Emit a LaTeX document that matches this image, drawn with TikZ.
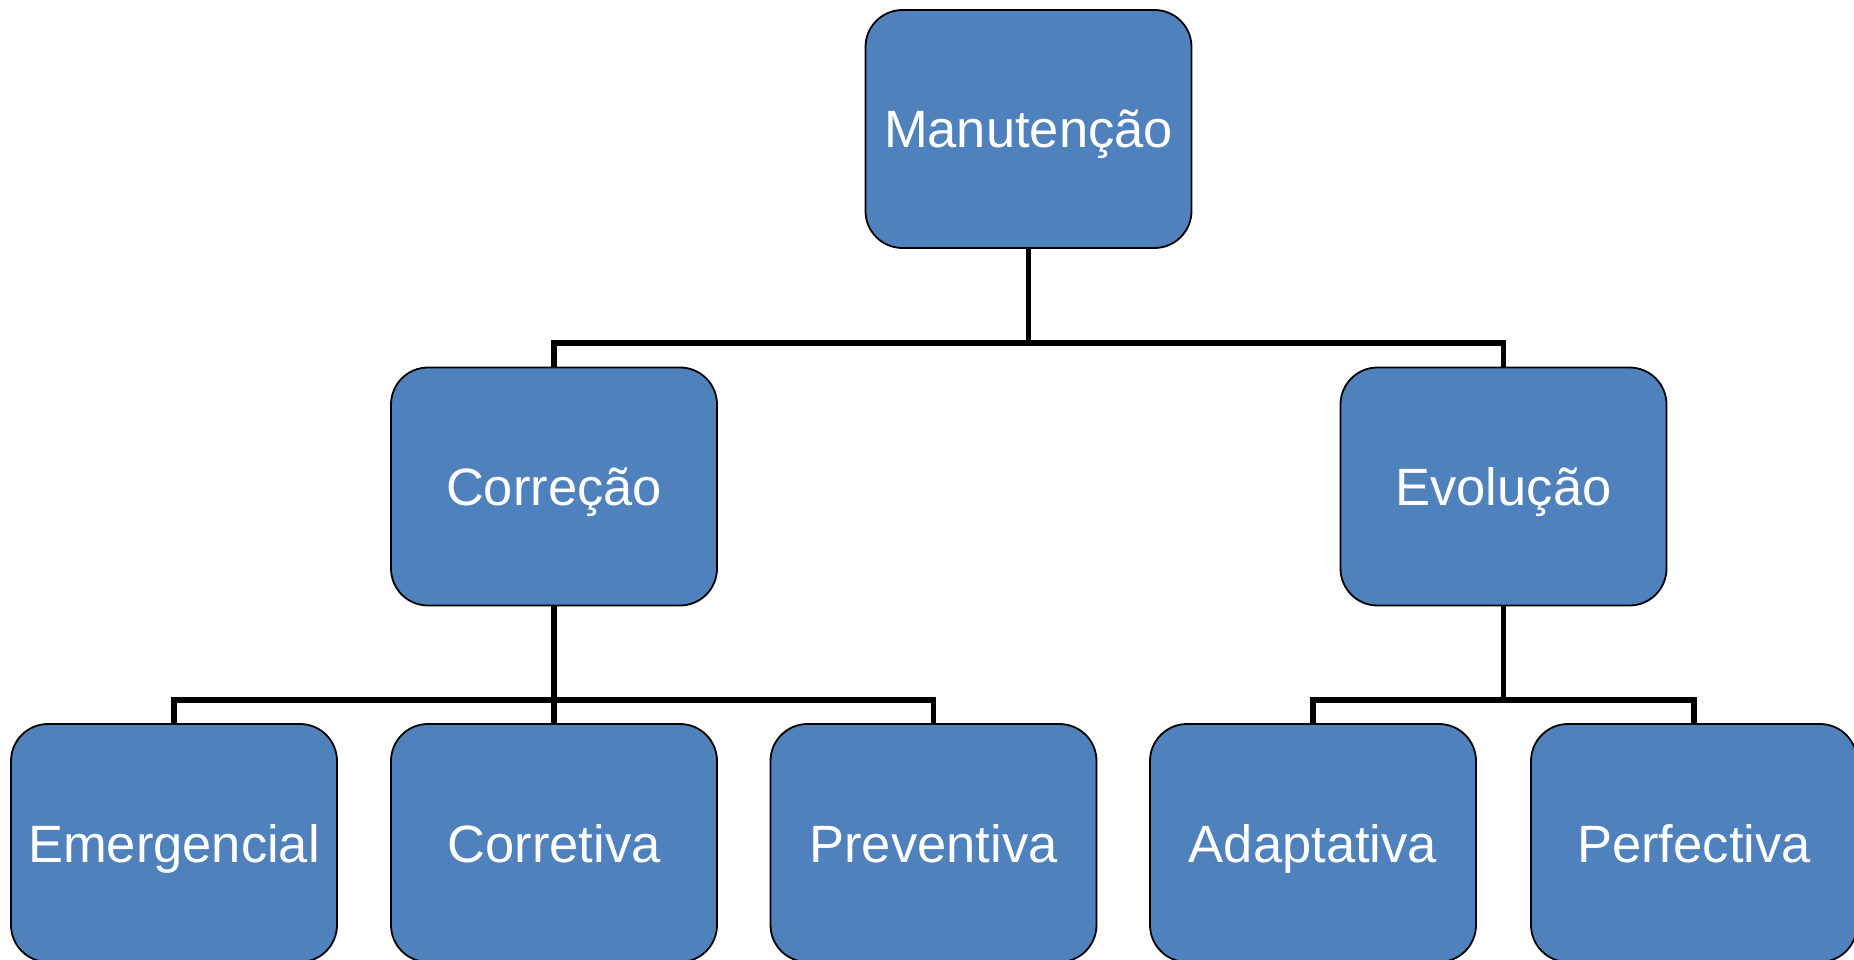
\documentclass[tikz,border=0pt]{standalone}
\usepackage{fontspec}
\setmainfont{Liberation Sans}
\definecolor{boxblue}{HTML}{4F81BD}
\begin{document}
\begin{tikzpicture}[x=1pt,y=-1pt,
  box/.style={draw=black, line width=1.8pt, fill=boxblue, rounded corners=37pt,
    minimum width=326pt, minimum height=238pt, inner sep=0pt, text=white,
    text height=48pt, text depth=10pt,
    font=\fontsize{52.5}{60}\selectfont},
  conn/.style={draw=black, line width=5.5pt}]
\useasboundingbox (0,0) rectangle (1854,960);
\node[box] (man) at (1028.5,129) {Manutenção};
\node[box] (cor) at (554,486.5) {Correção};
\node[box] (evo) at (1503.5,486.5) {Evolução};
\node[box] (eme) at (174,843) {Emergencial};
\node[box] (crt) at (554,843) {Corretiva};
\node[box] (pre) at (933.5,843) {Preventiva};
\node[box] (ada) at (1313,843) {Adaptativa};
\node[box] (per) at (1694,843) {Perfectiva};
\coordinate (b1) at (1028.5,343);
\coordinate (b2) at (554,700);
\coordinate (b3) at (1503.5,700);
\draw[conn] (man.south) -- (b1);
\draw[conn] (b1) -| (cor.north);
\draw[conn] (b1) -| (evo.north);
\draw[conn] (cor.south) -- (b2);
\draw[conn] (b2) -| (eme.north);
\draw[conn] (b2) -- (crt.north);
\draw[conn] (b2) -| (pre.north);
\draw[conn] (evo.south) -- (b3);
\draw[conn] (b3) -| (ada.north);
\draw[conn] (b3) -| (per.north);
\end{tikzpicture}
\end{document}
